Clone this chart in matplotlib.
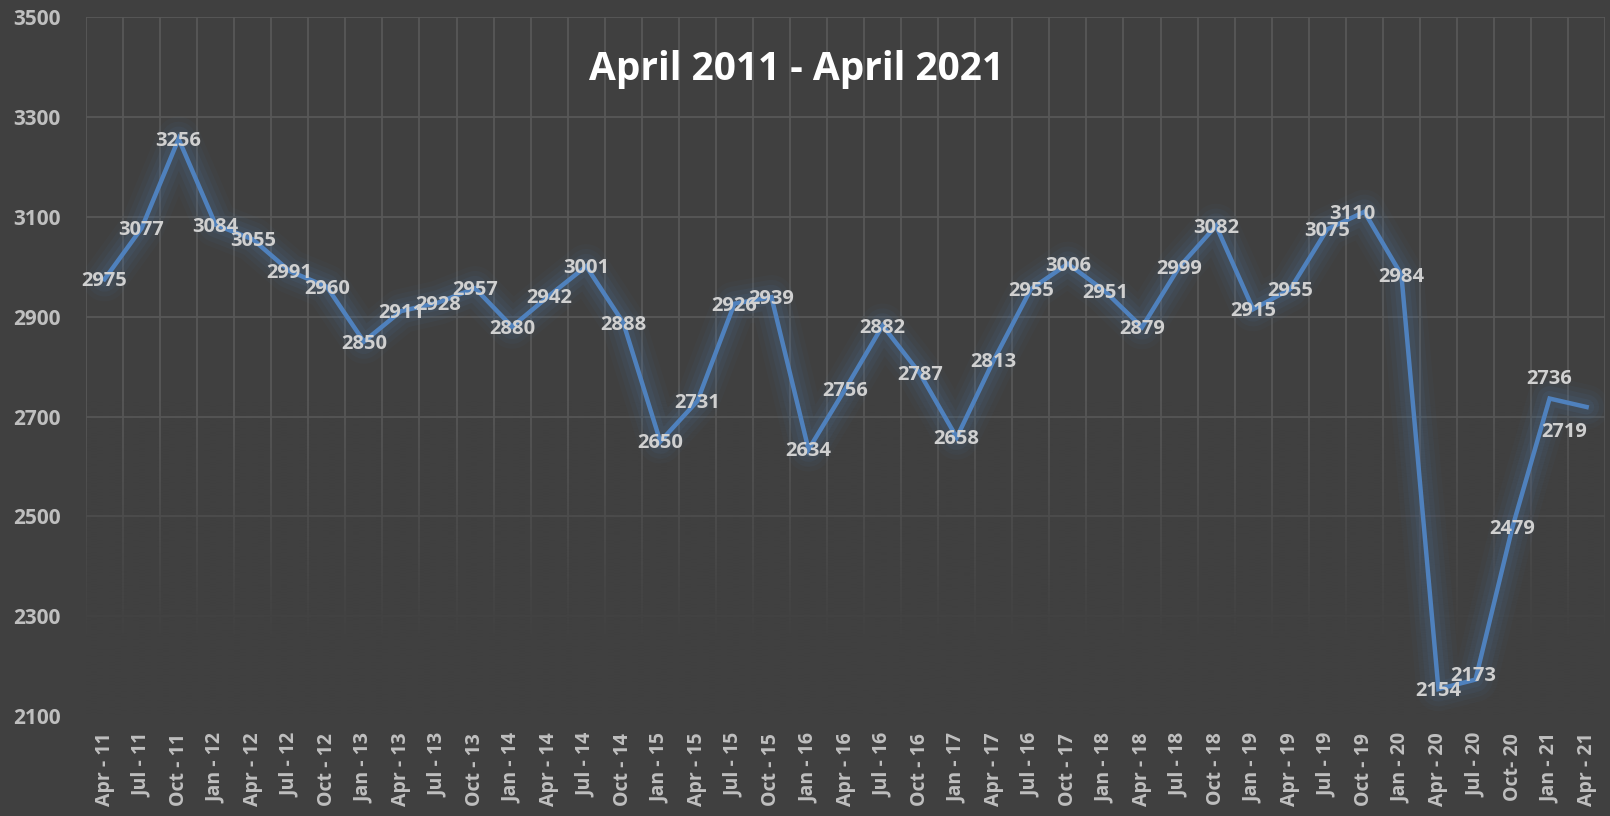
import numpy as np
import matplotlib
matplotlib.use("Agg")
import matplotlib.pyplot as plt

# quarters on the x axis (labels as in the original, typos included)
quarters = ["Apr - 11", "Jul - 11", "Oct - 11", "Jan - 12", "Apr - 12", "Jul - 12",
            "Oct - 12", "Jan - 13", "Apr - 13", "Jul - 13", "Oct - 13", "Jan - 14",
            "Apr - 14", "Jul - 14", "Oct - 14", "Jan - 15", "Apr - 15", "Jul - 15",
            "Oct - 15", "Jan - 16", "Apr - 16", "Jul - 16", "Oct - 16", "Jan - 17",
            "Apr - 17", "Jul - 16", "Oct - 17", "Jan - 18", "Apr - 18", "Jul - 18",
            "Oct - 18", "Jan - 19", "Apr - 19", "Jul - 19", "Oct - 19", "Jan - 20",
            "Apr - 20", "Jul - 20", "Oct- 20", "Jan - 21", "Apr - 21"]

valores = [2975, 3077, 3256, 3084, 3055, 2991, 2960, 2850, 2911, 2928, 2957,
           2880, 2942, 3001, 2888, 2650, 2731, 2926, 2939, 2634, 2756, 2882,
           2787, 2658, 2813, 2955, 3006, 2951, 2879, 2999, 3082, 2915, 2955,
           3075, 3110, 2984, 2154, 2173, 2479, 2736, 2719]

y_ticks = [2100, 2300, 2500, 2700, 2900, 3100, 3300, 3500]
titulo = "April 2011 - April 2021"

# a few labels were nudged by hand in the original (pixel offsets)
deslocamentos = {34: (-12, 0), 37: (-2, 6), 39: (0, 22), 40: (-22, -23)}

fundo = "#404040"
azul = "#4F81BD"
cinza_texto = "#D0D0D0"
fonte = "Open Sans"

fig = plt.figure(figsize=(16.1, 8.16), dpi=100, facecolor=fundo)
ax = fig.add_axes([0.0534, 0.1225, 0.9436, 0.8565])
ax.set_facecolor(fundo)

xs = np.arange(len(valores))

# glow around the line
for largura, alfa in [(32, 0.035), (25, 0.05), (18, 0.07), (11, 0.09)]:
    ax.plot(xs, valores, color=azul, linewidth=largura, alpha=alfa,
            solid_joinstyle="round", solid_capstyle="round", zorder=2)
ax.plot(xs, valores, color=azul, linewidth=3.2, solid_joinstyle="miter", zorder=3)

# data labels
for i, v in enumerate(valores):
    dx, dy = deslocamentos.get(i, (0, 0))
    ax.annotate(str(v), xy=(i, v), xytext=(dx, dy - 2), textcoords="offset pixels",
                ha="center", va="center", fontsize=14.5, fontweight="bold",
                family=fonte, color=cinza_texto, zorder=4)

ax.set_xlim(-0.5, len(valores) - 0.5)
ax.set_ylim(2100, 3500)
ax.set_yticks(y_ticks)
ax.set_xticks(xs)
ax.set_xticklabels(quarters, rotation=90)
ax.set_xticks(np.arange(len(valores) + 1) - 0.5, minor=True)

ax.grid(which="major", axis="y", color="#585858", linewidth=1.3, zorder=0)
ax.grid(which="minor", axis="x", color="#585858", linewidth=1.3, zorder=0)
ax.set_axisbelow(True)
for s in ax.spines.values():
    s.set_visible(False)

ax.tick_params(axis="both", which="both", length=0)
ax.tick_params(axis="y", pad=18)
ax.tick_params(axis="x", pad=12)
for lbl in ax.get_yticklabels():
    lbl.set_fontsize(15)
    lbl.set_fontweight("bold")
    lbl.set_family(fonte)
    lbl.set_color("#BFBFBF")
for lbl in ax.get_xticklabels():
    lbl.set_fontsize(14)
    lbl.set_fontweight("bold")
    lbl.set_family(fonte)
    lbl.set_color("#BFBFBF")

# gridlines fade out toward the bottom
yy = np.linspace(1, 0, 200)
alfa = np.clip((0.45 - yy) / (0.45 - 0.1), 0, 1)
grad = np.zeros((200, 1, 4))
grad[:, 0, :3] = matplotlib.colors.to_rgb(fundo)
grad[:, 0, 3] = alfa
ax.imshow(grad, extent=[0, 1, 0, 1], transform=ax.transAxes, aspect="auto",
          zorder=1, interpolation="bilinear")
ax.set_xlim(-0.5, len(valores) - 0.5)
ax.set_ylim(2100, 3500)

ax.text(0.468, 0.925, titulo, transform=ax.transAxes, ha="center", va="center",
        fontsize=28, fontweight="bold", family=fonte, color="white", zorder=5)

fig.savefig("out.png", dpi=100, facecolor=fundo)
